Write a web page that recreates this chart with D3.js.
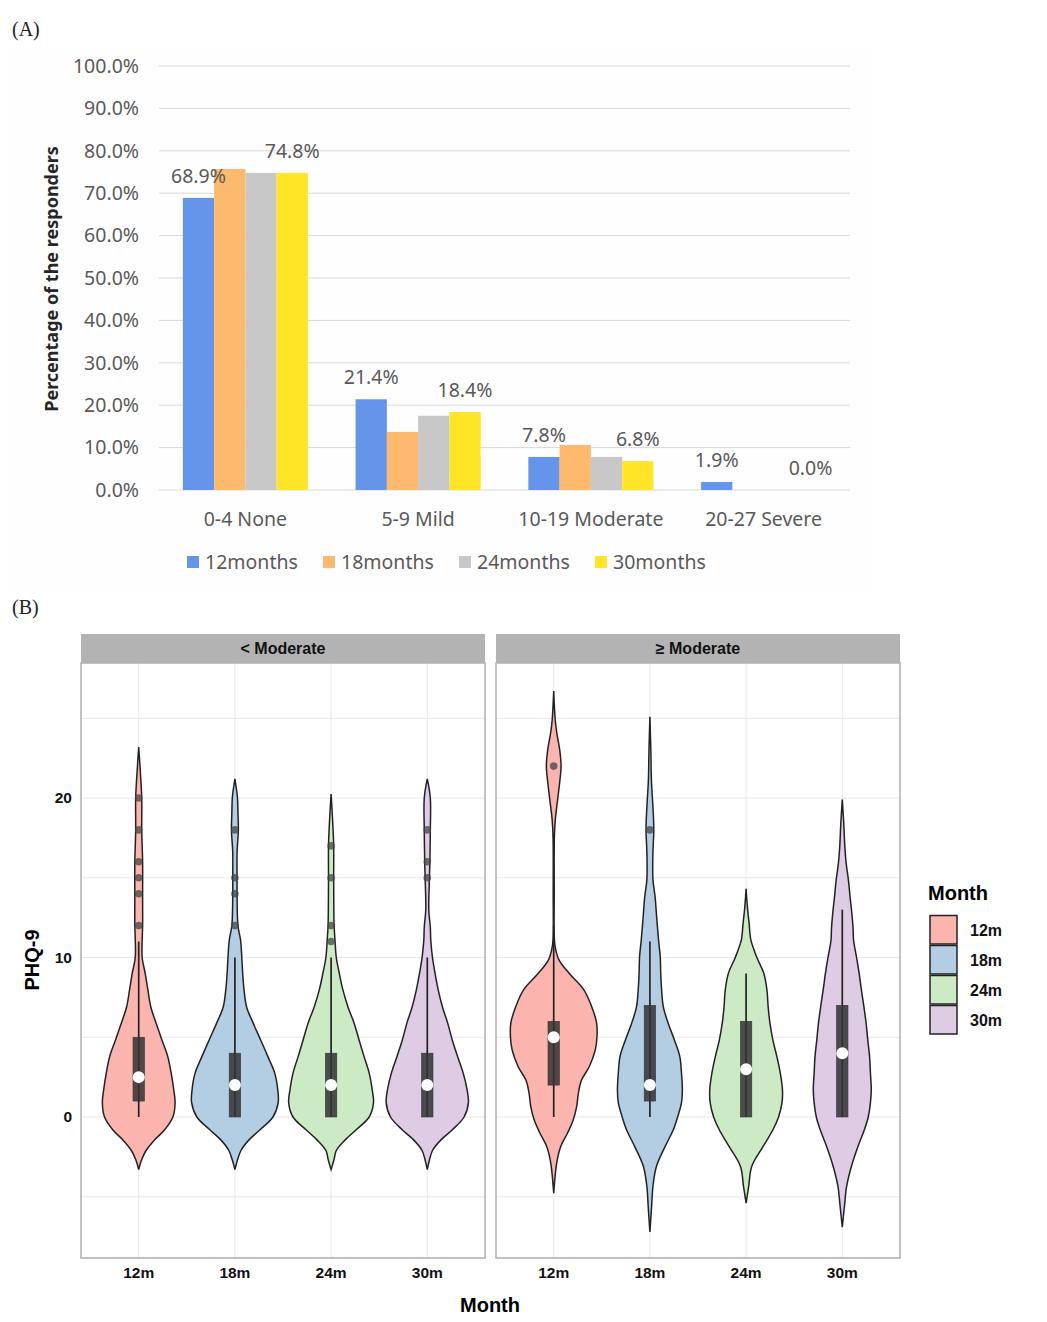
<!DOCTYPE html>
<html><head><meta charset="utf-8">
<script src="https://cdn.jsdelivr.net/npm/d3@7"></script>
<style>body{margin:0;background:#fff}</style>
</head><body><svg id="c" width="1047" height="1322"></svg>
<script>
// ---------- Panel A data ----------
const categories = ["0-4 None", "5-9 Mild", "10-19 Moderate", "20-27 Severe"];
const seriesNames = ["12months", "18months", "24months", "30months"];
const pct12 = [68.9, 21.4, 7.8, 1.9];
const pct18 = [75.7, 13.7, 10.6, 0.0];
const pct24 = [74.8, 17.5, 7.8, 0.0];
const pct30 = [74.8, 18.4, 6.8, 0.0];
const pctTicks = [0, 10, 20, 30, 40, 50, 60, 70, 80, 90, 100];
const labelledSeries = ["12months", "30months"];

// ---------- Panel B data ----------
const months = ["12m", "18m", "24m", "30m"];
const facets = ["< Moderate", "\u2265 Moderate"];
const phqTicks = [0, 10, 20];
const phqGrid = [-5, 0, 5, 10, 15, 20, 25];
// violin profiles: [PHQ-9 value, relative width (100 = widest)]
const violinLow12 = [[23.2,0],[21.75,3.5],[20,7],[18,7],[16,9],[14,9],[12,9],[11.1,8],[10,8],[9,15],[8,21],[6.9,28],[5.9,40],[4.8,54],[3.8,67],[2.75,75],[1.7,81],[0.9,84],[0,79],[-0.8,60],[-1.45,36],[-2.1,17],[-2.7,6.5],[-3.3,0]];
const violinLow18 = [[21.2,0],[20,6],[19.1,7],[18,8],[16.6,5],[15,5],[14,5],[12,7],[11.1,13],[10,16],[9,18],[8,21],[6.9,27],[5.9,42],[4.8,60],[3.8,76],[2.75,92],[1.7,99],[0.9,100],[0,88],[-0.8,58],[-1.45,32],[-2.1,14],[-2.7,6],[-3.3,0]];
const violinLow24 = [[20.25,0],[18.6,3.5],[17,6],[15,6],[12,7],[11.1,9],[10,12],[9,19],[8,27],[6.9,39],[5.9,53],[4.8,65],[3.8,76],[2.75,88],[1.7,95],[0.9,98],[0,88],[-0.8,58],[-1.45,32],[-2.1,12],[-2.7,6.5],[-3.3,0]];
const violinLow30 = [[21.2,0],[20,7],[18,7],[16,6],[15,5],[13,3.5],[11.9,7],[11.1,8],[10,12],[9,18],[8,25],[6.9,35],[5.9,47],[4.8,58],[3.8,70],[2.75,83],[1.7,92],[0.9,95],[0,85],[-0.8,58],[-1.45,31],[-2.1,12],[-2.7,5],[-3.3,0]];
const violinHigh12 = [[26.7,0],[24.9,3.5],[24.1,7],[23,14],[22,17],[20.8,13],[19.45,7],[18.6,3.5],[17.5,1.5],[14,1.2],[11.1,1.6],[10.5,4.6],[9.8,13],[9,36],[8,69],[6.9,88],[5.9,99],[5.03,100],[4.2,96],[3.15,82],[2.3,64],[1.5,57],[0.65,53],[-0.19,45],[-1,32],[-1.86,16],[-2.7,8],[-3.5,4],[-4.77,0]];
const violinHigh18 = [[25.1,0],[22.8,2.3],[21.1,3.5],[19.45,7],[18,9],[16.6,7],[14.9,7],[13.8,12],[12.4,16],[11.1,20],[10,24],[9,25],[8,27],[6.9,31],[5.9,42],[4.8,57],[3.8,69],[2.75,73],[1.7,75],[0.9,73],[0,64],[-0.8,54],[-1.86,35],[-3.1,15],[-4.35,7],[-5.6,4],[-7.2,0]];
const violinHigh24 = [[14.3,0],[13,3.5],[12.15,7],[11.1,11],[10,25],[9,41],[8,48],[6.9,51],[5.9,55],[4.8,62],[3.8,71],[2.75,79],[1.7,84],[0.9,83],[0,75],[-0.8,62],[-1.86,39],[-3.1,13],[-4.35,6],[-5.4,0]];
const violinHigh30 = [[19.9,0],[18.35,3.5],[16.9,6],[15.9,9],[14.9,14],[13.8,18],[12.8,22],[11.8,25],[11.1,26],[10,33],[9,39],[8,44],[6.9,50],[5.9,55],[4.8,59],[3.8,63],[2.75,65],[1.7,67],[0.9,65],[0,60],[-0.8,51],[-1.86,36],[-3.1,21],[-4.35,10],[-5.6,5],[-6.9,0]];
// box stats: [q1, centre dot, q3, whisker low, whisker high]
const boxLow = [[1,2.5,5,0,11],[0,2,4,0,10],[0,2,4,0,10],[0,2,4,0,10]];
const boxHigh = [[2,5,6,0,12],[1,2,7,0,11],[0,3,6,0,9],[0,4,7,0,13]];
const outliersLow = [[12,14,15,16,18,20],[12,14,15,18],[11,12,15,17],[15,16,18]];
const outliersHigh = [[22],[18],[],[]];

// ---------- drawing ----------
const svg = d3.select("#c");
const serif = "'Liberation Serif','DejaVu Serif',serif";
const sansA = "'Noto Sans','Open Sans',sans-serif";
const sansB = "'Liberation Sans',Arial,sans-serif";

svg.append("text").attr("x", 12).attr("y", 36).text("(A)")
  .style("font-family", serif).style("font-size", "20px").attr("fill", "#222");
svg.append("text").attr("x", 12).attr("y", 614).text("(B)")
  .style("font-family", serif).style("font-size", "20px").attr("fill", "#222");

// Panel A
const gA = svg.append("g");
gA.append("rect").attr("x", 10).attr("y", 45).attr("width", 860).attr("height", 548).attr("fill", "#fefefe");
const yA = d3.scaleLinear().domain([0, 100]).range([490, 66]);
const xA = d3.scaleBand().domain(categories).range([159, 850]).paddingInner(0.276).paddingOuter(0.138);
const xS = d3.scaleBand().domain(seriesNames).range([0, xA.bandwidth()]);
const colA = d3.scaleOrdinal().domain(seriesNames).range(["#6495ea", "#fdb96c", "#c8c8c8", "#ffe526"]);
const valuesA = {"12months": pct12, "18months": pct18, "24months": pct24, "30months": pct30};
const fmtPct = d3.format(".1f");

gA.selectAll("line.grid").data(pctTicks).join("line")
  .attr("x1", 159).attr("x2", 850).attr("y1", d => yA(d)).attr("y2", d => yA(d))
  .attr("stroke", "#d9d9d9").attr("stroke-width", 1);
gA.selectAll("text.ytick").data(pctTicks).join("text")
  .attr("x", 139).attr("y", d => yA(d)).attr("text-anchor", "end").attr("dy", "0.35em")
  .text(d => fmtPct(d) + "%")
  .style("font-family", sansA).style("font-size", "19.5px").attr("fill", "#595959");

seriesNames.forEach(s => {
  const vals = valuesA[s];
  gA.selectAll(null).data(categories).join("rect")
    .attr("x", (c) => xA(c) + xS(s))
    .attr("y", (c, i) => yA(vals[i]))
    .attr("width", xS.bandwidth())
    .attr("height", (c, i) => yA(0) - yA(vals[i]))
    .attr("fill", colA(s));
});
labelledSeries.forEach(s => {
  const vals = valuesA[s];
  gA.selectAll(null).data(categories).join("text")
    .attr("x", c => xA(c) + xS(s) + xS.bandwidth() / 2)
    .attr("y", (c, i) => yA(vals[i]) - 22).attr("dy", "0.35em")
    .attr("text-anchor", "middle")
    .text((c, i) => fmtPct(vals[i]) + "%")
    .style("font-family", sansA).style("font-size", "19.5px").attr("fill", "#595959");
});
gA.selectAll("text.cat").data(categories).join("text")
  .attr("x", c => xA(c) + xA.bandwidth() / 2).attr("y", 519).attr("dy", "0.35em")
  .attr("text-anchor", "middle").text(c => c)
  .style("font-family", sansA).style("font-size", "19.5px").attr("fill", "#595959");
gA.append("text").attr("transform", "translate(52,279) rotate(-90)")
  .attr("text-anchor", "middle").attr("dy", "0.35em").text("Percentage of the responders")
  .style("font-family", sansA).style("font-size", "18px").style("font-weight", "bold").attr("fill", "#262626");
const legA = d3.scaleBand().domain(seriesNames).range([187, 731]);
seriesNames.forEach(s => {
  gA.append("rect").attr("x", legA(s)).attr("y", 556).attr("width", 12).attr("height", 12).attr("fill", colA(s));
  gA.append("text").attr("x", legA(s) + 18).attr("y", 562).attr("dy", "0.35em").text(s)
    .style("font-family", sansA).style("font-size", "19.5px").attr("fill", "#595959");
});

// Panel B
const gB = svg.append("g");
const yB = d3.scaleLinear().domain([0, 20]).range([1117, 798]);
const panelTop = 663, panelBottom = 1258, stripTop = 634;
const fillB = d3.scaleOrdinal().domain(months).range(["#fbb4ae", "#b3cde3", "#ccebc5", "#decbe4"]);
const facetDefs = [
  {name: facets[0], x0: 81, x1: 485, violins: [violinLow12, violinLow18, violinLow24, violinLow30], boxes: boxLow, outliers: outliersLow},
  {name: facets[1], x0: 496, x1: 900, violins: [violinHigh12, violinHigh18, violinHigh24, violinHigh30], boxes: boxHigh, outliers: outliersHigh}
];
facetDefs.forEach(f => {
  const x = d3.scalePoint().domain(months).range([f.x0, f.x1]).padding(0.6);
  const w = d3.scaleLinear().domain([0, 100]).range([0, 0.45 * x.step()]);
  const g = gB.append("g");
  g.append("rect").attr("x", f.x0).attr("y", panelTop).attr("width", f.x1 - f.x0).attr("height", panelBottom - panelTop).attr("fill", "#fff");
  g.selectAll(null).data(phqGrid).join("line")
    .attr("x1", f.x0).attr("x2", f.x1).attr("y1", d => yB(d)).attr("y2", d => yB(d))
    .attr("stroke", "#e8e8e8").attr("stroke-width", 1);
  g.selectAll(null).data(months).join("line")
    .attr("x1", d => x(d)).attr("x2", d => x(d)).attr("y1", panelTop).attr("y2", panelBottom)
    .attr("stroke", "#e8e8e8").attr("stroke-width", 1);
  months.forEach((m, i) => {
    const cx = x(m);
    const area = d3.area().y(d => yB(d[0])).x0(d => cx - w(d[1])).x1(d => cx + w(d[1])).curve(d3.curveCatmullRom.alpha(0.5));
    g.append("path").attr("d", area(f.violins[i])).attr("fill", fillB(m))
      .attr("stroke", "#222").attr("stroke-width", 1.5);
    const b = f.boxes[i];
    g.append("line").attr("x1", cx).attr("x2", cx).attr("y1", yB(b[3])).attr("y2", yB(b[4]))
      .attr("stroke", "#222").attr("stroke-width", 1.7);
    g.append("rect").attr("x", cx - 5.7).attr("width", 11.4).attr("y", yB(b[2])).attr("height", yB(b[0]) - yB(b[2]))
      .attr("fill", "#333").attr("fill-opacity", 0.85).attr("stroke", "#333").attr("stroke-width", 0.6);
    g.selectAll(null).data(f.outliers[i]).join("circle")
      .attr("cx", cx).attr("cy", d => yB(d)).attr("r", 3.8).attr("fill", "#444").attr("fill-opacity", 0.75);
    g.append("circle").attr("cx", cx).attr("cy", yB(b[1])).attr("r", 6).attr("fill", "#fff");
  });
  g.append("rect").attr("x", f.x0).attr("y", panelTop).attr("width", f.x1 - f.x0).attr("height", panelBottom - panelTop)
    .attr("fill", "none").attr("stroke", "#b3b3b3").attr("stroke-width", 1.6);
  g.append("rect").attr("x", f.x0).attr("y", stripTop).attr("width", f.x1 - f.x0).attr("height", panelTop - stripTop)
    .attr("fill", "#b3b3b3");
  g.append("text").attr("x", (f.x0 + f.x1) / 2).attr("y", (stripTop + panelTop) / 2).attr("dy", "0.35em")
    .attr("text-anchor", "middle").text(f.name)
    .style("font-family", sansB).style("font-size", "16px").style("font-weight", "bold").attr("fill", "#111");
  g.selectAll(null).data(months).join("text")
    .attr("x", d => x(d)).attr("y", 1273).attr("dy", "0.35em").attr("text-anchor", "middle").text(d => d)
    .style("font-family", sansB).style("font-size", "15.5px").style("font-weight", "bold").attr("fill", "#111");
});
gB.selectAll(null).data(phqTicks).join("text")
  .attr("x", 72).attr("y", d => yB(d)).attr("dy", "0.35em").attr("text-anchor", "end").text(d => d)
  .style("font-family", sansB).style("font-size", "15.5px").style("font-weight", "bold").attr("fill", "#111");
gB.append("text").attr("transform", "translate(32,960) rotate(-90)").attr("text-anchor", "middle").attr("dy", "0.35em")
  .text("PHQ-9").style("font-family", sansB).style("font-size", "20px").style("font-weight", "bold").attr("fill", "#000");
gB.append("text").attr("x", 490).attr("y", 1305).attr("dy", "0.35em").attr("text-anchor", "middle")
  .text("Month").style("font-family", sansB).style("font-size", "20px").style("font-weight", "bold").attr("fill", "#000");
// legend
gB.append("text").attr("x", 928).attr("y", 893).attr("dy", "0.35em").text("Month")
  .style("font-family", sansB).style("font-size", "20px").style("font-weight", "bold").attr("fill", "#000");
const legB = d3.scaleBand().domain(months).range([915, 1035]);
months.forEach(m => {
  gB.append("rect").attr("x", 930).attr("y", legB(m) + 0.5).attr("width", 27).attr("height", legB.bandwidth() - 1.5)
    .attr("fill", fillB(m)).attr("stroke", "#222").attr("stroke-width", 1.5);
  gB.append("text").attr("x", 970).attr("y", legB(m) + legB.bandwidth() / 2).attr("dy", "0.35em").text(m)
    .style("font-family", sansB).style("font-size", "16px").style("font-weight", "bold").attr("fill", "#111");
});
</script></body></html>
